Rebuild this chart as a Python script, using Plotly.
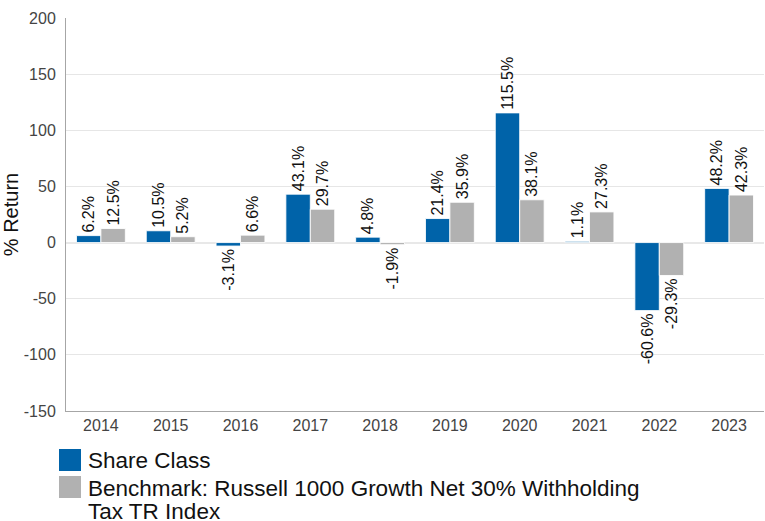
import plotly.graph_objects as go

years = ["2014", "2015", "2016", "2017", "2018", "2019", "2020", "2021", "2022", "2023"]
share_class = [6.2, 10.5, -3.1, 43.1, 4.8, 21.4, 115.5, 1.1, -60.6, 48.2]
benchmark = [12.5, 5.2, 6.6, 29.7, -1.9, 35.9, 38.1, 27.3, -29.3, 42.3]
series_names = ["Share Class", "Benchmark: Russell 1000 Growth Net 30% Withholding Tax TR Index"]
legend_lines = [["Share Class"], ["Benchmark: Russell 1000 Growth Net 30% Withholding", "Tax TR Index"]]
y_ticks = [-150, -100, -50, 0, 50, 100, 150, 200]
y_tick_labels = ["-150", "-100", "-50", "0", "50", "100", "150", "200"]

colors = ["#0063A9", "#B1B1B1"]
FONT = "Arial, Liberation Sans, sans-serif"

W, H = 765, 521
ML, MR, MT, MB = 66, 1, 18, 110
PW, PH = W - ML - MR, H - MT - MB


def px_x(x):
    return (x - ML) / PW


def px_y(y):
    return (H - MB - y) / PH


fig = go.Figure()
for name, vals, col in zip(series_names, [share_class, benchmark], colors):
    fig.add_trace(go.Bar(
        x=years, y=vals, name=name,
        marker=dict(color=col, line=dict(color="rgba(255,255,255,0.85)", width=1)),
        text=[f"{v:.1f}%" for v in vals],
        textposition="outside", textangle=-90, constraintext="none",
        textfont=dict(family=FONT, size=16, color="#111111"),
        cliponaxis=False, showlegend=False,
    ))

shapes = []
annotations = []
swatches = [(449, 471), (476, 498)]
text_centers = [[460.5], [488.5, 511]]
for (top, bot), col, lines, centers in zip(swatches, colors, legend_lines, text_centers):
    shapes.append(dict(type="rect", xref="paper", yref="paper",
                       x0=px_x(59), x1=px_x(81), y0=px_y(bot), y1=px_y(top),
                       fillcolor=col, line=dict(width=0)))
    for line, cy in zip(lines, centers):
        annotations.append(dict(text=line, xref="paper", yref="paper",
                                x=px_x(86), y=px_y(cy), xanchor="left", yanchor="middle",
                                showarrow=False,
                                font=dict(family=FONT, size=22.5, color="#111111")))

fig.update_layout(
    width=W, height=H,
    margin=dict(l=ML, r=MR, t=MT, b=MB, autoexpand=False),
    paper_bgcolor="white", plot_bgcolor="white",
    barmode="group", bargap=0.3, bargroupgap=0.0,
    font=dict(family=FONT),
    shapes=shapes, annotations=annotations,
    xaxis=dict(showline=True, linecolor="#a6a6a6", linewidth=1, automargin=False,
               tickfont=dict(family=FONT, size=16, color="#444444"),
               showgrid=False, ticks=""),
    yaxis=dict(range=[-150, 200], tickvals=y_ticks, ticktext=y_tick_labels,
               showline=True, linecolor="#a6a6a6", linewidth=1, automargin=False,
               gridcolor="#e6e6e6", gridwidth=1,
               zeroline=True, zerolinecolor="#e8e8e8", zerolinewidth=2,
               tickfont=dict(family=FONT, size=16, color="#444444"),
               ticklabelstandoff=6,
               title=dict(text="% Return", font=dict(family=FONT, size=20, color="#111111"))),
)

fig.write_html("out.html", config={"displayModeBar": False},
               post_script="document.body.style.margin='0';")
